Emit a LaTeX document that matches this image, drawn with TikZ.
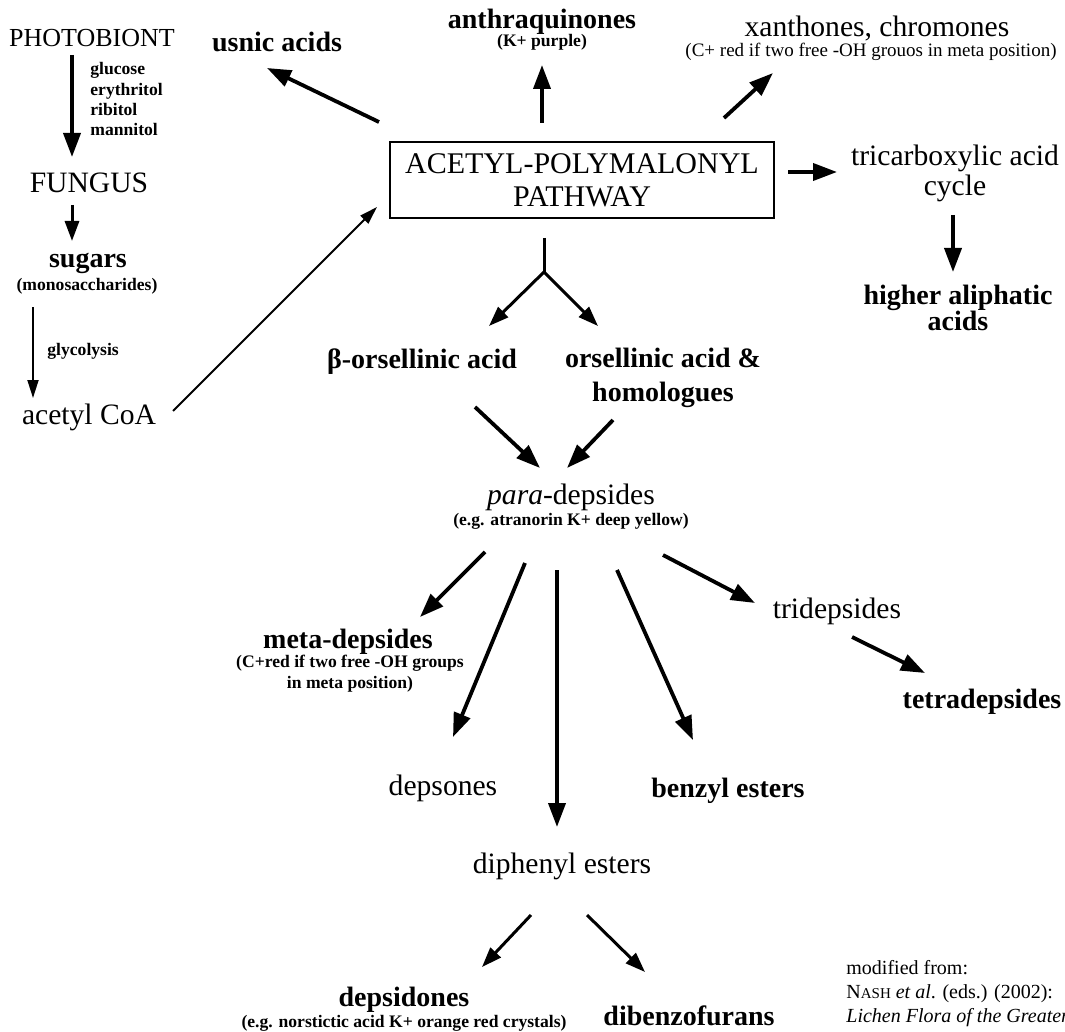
\documentclass[tikz,border=0pt]{standalone}
\usepackage{fontspec}
\setmainfont{Liberation Serif}
\usetikzlibrary{arrows.meta}

\begin{document}
\begin{tikzpicture}[x=0.5pt, y=-0.5pt,
    lbl/.style={inner sep=0pt, anchor=base, font=\fontsize{14.8}{15}\selectfont},
    blbl/.style={inner sep=0pt, anchor=base, font=\fontsize{14}{15}\selectfont\bfseries},
    note/.style={inner sep=0pt, anchor=base, font=\fontsize{8.8}{10.5}\selectfont\bfseries},
    big/.style={-{Triangle[length=12pt,width=8.5pt]}, line width=1.9pt},
    mid/.style={-{Triangle[length=10pt,width=7pt]}, line width=1.5pt},
    slim/.style={-{Triangle[length=9pt,width=5.5pt]}, line width=0.9pt}]
\useasboundingbox (0,0) rectangle (1065,1032);

% left column
\node[lbl, font=\fontsize{13}{15}\selectfont] (photo) at (92,47) {PHOTOBIONT};
\node[note, anchor=north west, align=left, font=\fontsize{8.8}{10.2}\selectfont\bfseries] (sugarlist) at (90,62) {glucose\\erythritol\\ribitol\\mannitol};
\node[lbl] (fungus) at (89,193) {FUNGUS};
\node[blbl] (sugars) at (88,268) {sugars};
\node[note] (mono) at (87,291) {(monosaccharides)};
\node[note, anchor=base west] (glyco) at (47,355) {glycolysis};
\node[lbl] (acetyl) at (89,424) {acetyl CoA};

% top row and pathway box
\node[blbl] (usnic) at (277,52) {usnic acids};
\node[blbl] (anthra) at (542,29) {anthraquinones};
\node[note] (anthranote) at (542,47) {(K+ purple)};
\node[lbl] (xanth) at (877,37) {xanthones, chromones};
\node[note, font=\fontsize{9.5}{11}\selectfont] (xanthnote) at (871,57) {(C+ red if two free -OH grouos in meta position)};
\node[draw, line width=1.3pt, minimum width=192pt, minimum height=38pt, align=center,
      font=\fontsize{15}{16.5}\selectfont] (box) at (582,180) {ACETYL-POLYMALONYL\\PATHWAY};
\node[lbl, anchor=center, align=center] (tca) at (955,173) {tricarboxylic acid\\cycle};
\node[blbl, anchor=center, align=center, font=\fontsize{14}{13}\selectfont\bfseries] (hal) at (958,308) {higher aliphatic\\acids};

% acids and depsides
\coordinate (split) at (544,272);
\node[blbl] (beta) at (422,368) {β-orsellinic acid};
\node[blbl, anchor=center, align=center, font=\fontsize{14}{17}\selectfont\bfseries] (ors) at (663,378) {orsellinic acid \&\\homologues};
\node[lbl] (para) at (571,504) {\textit{para}-depsides};
\node[note] (paranote) at (571,525) {(e.g. atranorin K+ deep yellow)};
\node[blbl] (meta) at (348,648) {meta-depsides};
\node[note, anchor=center, align=center] (metanote) at (350,674) {(C+red if two free -OH groups\\in meta position)};
\node[lbl] (trid) at (837,618) {tridepsides};
\node[blbl] (tetra) at (982,708) {tetradepsides};
\node[lbl] (deps) at (443,795) {depsones};
\node[blbl] (benzyl) at (728,797) {benzyl esters};
\node[lbl] (diph) at (562,873) {diphenyl esters};
\node[blbl] (depsid) at (404,1006) {depsidones};
\node[note] (depsidnote) at (404,1027) {(e.g. norstictic acid K+ orange red crystals)};
\node[blbl] (dibenz) at (689,1025) {dibenzofurans};
\node[anchor=north west, align=left, inner sep=0pt, font=\fontsize{10}{12}\selectfont] (credit) at (846,960)
     {modified from:\\N{\fontsize{7.5}{9}\selectfont ASH} \textit{et al}. (eds.) (2002):\\\textit{Lichen Flora of the Greater}};

\draw
([shift={(-20,8)}]photo.base) edge[big] ([shift={(-17,-36)}]fungus.base)
([shift={(-17,12)}]fungus.base) edge[mid] ([shift={(-16,-27)}]sugars.base)
([shift={(-54,16)}]mono.base) edge[slim] ([shift={(-56,-26)}]acetyl.base)
([shift={(84,-13)}]acetyl.base) edge[slim] ([shift={(-205,27)}]box.center)
([shift={(-203,-58)}]box.center) edge[big] ([shift={(-10,16)}]usnic.base)
([shift={(-40,-57)}]box.center) edge[big] ([shift={(0,18)}]anthranote.base)
([shift={(142,-62)}]box.center) edge[big] ([shift={(-98,16)}]xanthnote.base)
([shift={(206,-8)}]box.center) edge[big] ([shift={(-118,-1)}]tca.center)
([shift={(-2,42)}]tca.center) edge[big] ([shift={(-5,-36)}]hal.center);

\draw[line width=1.5pt] ([shift={(-38,58)}]box.center) -- (split);
\draw
(split) edge[mid] ([shift={(67,-42)}]beta.base)
(split) edge[mid] ([shift={(-65,-52)}]ors.center)
([shift={(53,39)}]beta.base) edge[big] ([shift={(-31,-36)}]para.base)
([shift={(-50,42)}]ors.center) edge[big] ([shift={(-4,-36)}]para.base)
([shift={(-86,48)}]para.base) edge[big] ([shift={(72,-31)}]meta.base)
([shift={(-46,59)}]para.base) edge[big] ([shift={(10,-58)}]deps.base)
([shift={(-14,66)}]para.base) edge[big] ([shift={(-5,-46)}]diph.base)
([shift={(46,66)}]para.base) edge[big] ([shift={(-35,-57)}]benzyl.base)
([shift={(92,51)}]para.base) edge[big] ([shift={(-82,-15)}]trid.base)
([shift={(15,19)}]trid.base) edge[big] ([shift={(-57,-35)}]tetra.base)
([shift={(-31,42)}]diph.base) edge[mid] ([shift={(78,-39)}]depsid.base)
([shift={(25,42)}]diph.base) edge[mid] ([shift={(-44,-53)}]dibenz.base);
\end{tikzpicture}
\end{document}
